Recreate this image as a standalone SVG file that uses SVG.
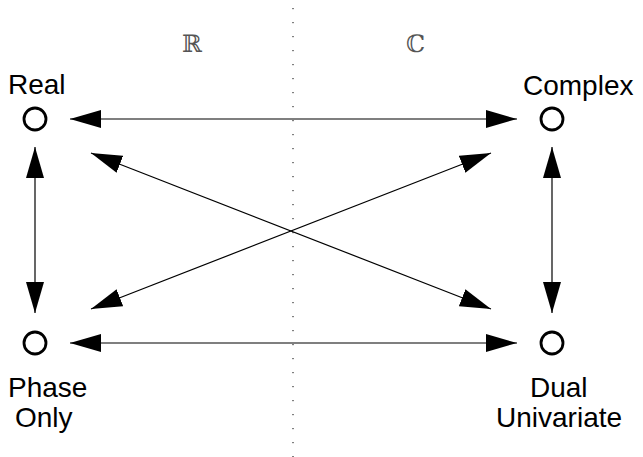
<svg xmlns="http://www.w3.org/2000/svg" width="643" height="457" viewBox="0 0 643 457">
  <defs>
    <marker id="head" markerUnits="userSpaceOnUse" markerWidth="32" markerHeight="20" refX="31" refY="9" orient="auto-start-reverse" viewBox="0 0 32 18">
      <path d="M0,0 L31,9 L0,18 Z" fill="#000"/>
    </marker>
    <style>
      .label { font-family: "Liberation Sans", Arial, sans-serif; font-size: 28px; fill: #000; }
      .field { font-family: "DejaVu Serif", "DejaVu Sans", serif; font-size: 24px; fill: #555; }
      .node { fill: none; stroke: #000; stroke-width: 2.8; }
      .link { stroke: #000; stroke-width: 1.2; fill: none; marker-start: url(#head); marker-end: url(#head); }
      .divider { stroke: #000; stroke-width: 1; stroke-dasharray: 1.2 12.8; }
    </style>
  </defs>

  <rect width="643" height="457" fill="#fff"/>

  <!-- divider between the real and complex halves -->
  <line class="divider" x1="293" y1="8" x2="293" y2="457"/>
  <text class="field" x="182" y="52">ℝ</text>
  <text class="field" x="406" y="52">ℂ</text>

  <g id="connectors">
    <line class="link" x1="70" y1="119" x2="517" y2="119"/>
    <line class="link" x1="70" y1="343" x2="517" y2="343"/>
    <line class="link" x1="35" y1="147" x2="35" y2="313"/>
    <line class="link" x1="552" y1="147" x2="552" y2="313"/>
    <line class="link" x1="91" y1="153" x2="491" y2="309"/>
    <line class="link" x1="91" y1="309" x2="491" y2="153"/>
  </g>

  <g id="real">
    <circle class="node" cx="35" cy="119" r="11"/>
    <text class="label" x="8" y="94">Real</text>
  </g>
  <g id="complex">
    <circle class="node" cx="552" cy="119" r="11"/>
    <text class="label" x="523" y="95">Complex</text>
  </g>
  <g id="phase-only">
    <circle class="node" cx="35" cy="343" r="11"/>
    <text class="label" x="8" y="397">Phase</text>
    <text class="label" x="15" y="427">Only</text>
  </g>
  <g id="dual-univariate">
    <circle class="node" cx="552" cy="343" r="11"/>
    <text class="label" x="530" y="397">Dual</text>
    <text class="label" x="496" y="427">Univariate</text>
  </g>
</svg>
